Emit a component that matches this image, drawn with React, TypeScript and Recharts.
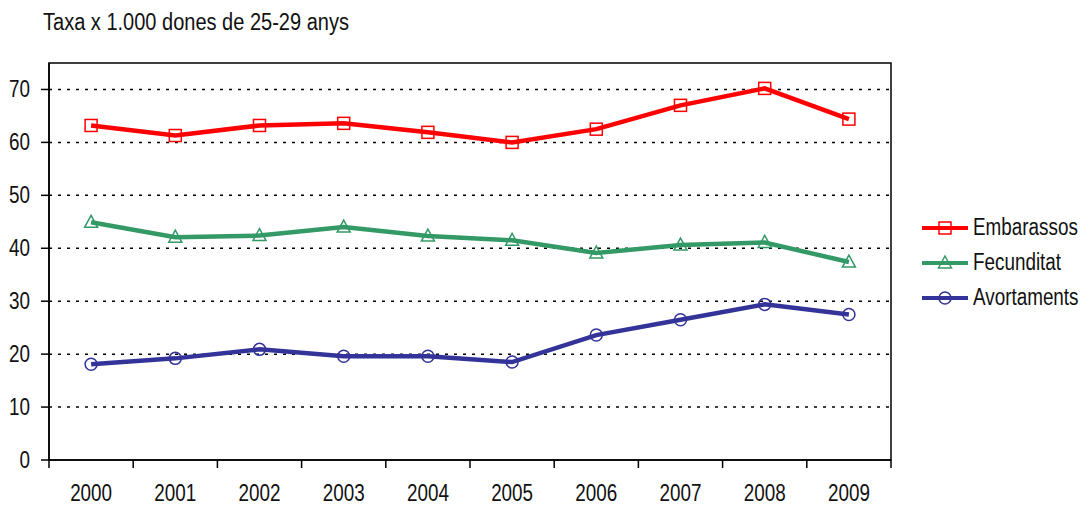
import {
  Line,
  LineChart,
  ReferenceArea,
  CartesianGrid,
  XAxis,
  YAxis,
} from 'recharts'

const FONT = '"Liberation Sans", Arial, sans-serif'
const NARROW = 0.82
const RED = '#ff0000'
const GREEN = '#339966'
const BLUE = '#333399'

const YEARS = ['2000', '2001', '2002', '2003', '2004', '2005', '2006', '2007', '2008', '2009']
const EMBARASSOS = [63.2, 61.3, 63.2, 63.6, 61.9, 60.0, 62.5, 67.0, 70.2, 64.4]
const FECUNDITAT = [44.9, 42.1, 42.4, 44.0, 42.3, 41.5, 39.1, 40.6, 41.1, 37.4]
const AVORTAMENTS = [18.1, 19.2, 20.9, 19.6, 19.6, 18.5, 23.6, 26.5, 29.4, 27.5]
const Y_TICKS = [0, 10, 20, 30, 40, 50, 60, 70]

const SERIES = [
  { key: 'embarassos', label: 'Embarassos', color: RED, marker: 'square' },
  { key: 'fecunditat', label: 'Fecunditat', color: GREEN, marker: 'triangle' },
  { key: 'avortaments', label: 'Avortaments', color: BLUE, marker: 'circle' },
] as const

const data = YEARS.map((year, i) => ({
  i,
  year,
  embarassos: EMBARASSOS[i],
  fecunditat: FECUNDITAT[i],
  avortaments: AVORTAMENTS[i],
}))

// marques a les fronteres entre anys, etiquetes al centre
const X_TICKS: number[] = []
for (let i = 0; i <= YEARS.length; i++) {
  X_TICKS.push(i - 0.5)
  if (i < YEARS.length) X_TICKS.push(i)
}

function Marker({ kind, cx, cy, color }: { kind: string; cx: number; cy: number; color: string }) {
  if (kind === 'square') {
    return <rect x={cx - 6} y={cy - 6} width={12} height={12} fill="none" stroke={color} strokeWidth={1.5} />
  }
  if (kind === 'triangle') {
    return (
      <polygon
        points={`${cx},${cy - 7} ${cx + 6.5},${cy + 5} ${cx - 6.5},${cy + 5}`}
        fill="none"
        stroke={color}
        strokeWidth={1.5}
      />
    )
  }
  return <circle cx={cx} cy={cy} r={6} fill="none" stroke={color} strokeWidth={1.5} />
}

function makeDot(kind: string, color: string) {
  return (props: { cx?: number; cy?: number; index?: number }) => {
    if (props.cx == null || props.cy == null) return <g key={props.index} />
    return <Marker key={props.index} kind={kind} cx={props.cx} cy={props.cy} color={color} />
  }
}

function NarrowText({ x, y, anchor, children }: { x: number; y: number; anchor: 'start' | 'middle' | 'end'; children: string }) {
  return (
    <text
      transform={`translate(${x},${y}) scale(${NARROW},1)`}
      textAnchor={anchor}
      fontSize={23}
      fontFamily={FONT}
      fill="#111"
    >
      {children}
    </text>
  )
}

function YearTick({ x, y, payload }: { x?: number; y?: number; payload?: { value: number } }) {
  if (x == null || y == null || !payload) return null
  const v = payload.value
  if (!Number.isInteger(v)) {
    return <line x1={x} x2={x} y1={y} y2={y + 8} stroke="#000" strokeWidth={1.5} />
  }
  return <NarrowText x={x} y={y + 41} anchor="middle">{YEARS[v]}</NarrowText>
}

function ValueTick({ x, y, payload }: { x?: number; y?: number; payload?: { value: number } }) {
  if (x == null || y == null || !payload) return null
  return <NarrowText x={x} y={y + 8} anchor="end">{String(payload.value)}</NarrowText>
}

const narrowHtml = {
  fontFamily: FONT,
  fontSize: 23,
  color: '#111',
  whiteSpace: 'nowrap' as const,
  transform: `scaleX(${NARROW})`,
  transformOrigin: 'left center',
}

function ChartLegend() {
  return (
    <div style={{ position: 'absolute', left: 920, top: 210 }}>
      {SERIES.map((s) => (
        <div key={s.key} style={{ display: 'flex', alignItems: 'center', height: 35 }}>
          <svg width={50} height={20}>
            <line x1={2} x2={48} y1={10} y2={10} stroke={s.color} strokeWidth={4} />
            <Marker kind={s.marker} cx={25} cy={10} color={s.color} />
          </svg>
          <span style={{ ...narrowHtml, marginLeft: 3, display: 'inline-block' }}>{s.label}</span>
        </div>
      ))}
    </div>
  )
}

export default function App() {
  return (
    <div style={{ position: 'relative', width: 1087, height: 506, background: '#fff' }}>
      <style>{'body{margin:0}'}</style>
      <div style={{ ...narrowHtml, transform: 'scaleX(0.87)', position: 'absolute', left: 43, top: 9 }}>
        Taxa x 1.000 dones de 25-29 anys
      </div>
      <LineChart width={1087} height={506} data={data} margin={{ top: 63, right: 196, bottom: 0, left: 0 }}>
        <CartesianGrid
          horizontal
          vertical={false}
          stroke="#000"
          strokeWidth={1.5}
          strokeDasharray="3 6"
          horizontalValues={[10, 20, 30, 40, 50, 60, 70]}
        />
        <ReferenceArea x1={-0.5} x2={9.5} y1={0} y2={75} fill="none" stroke="#000" strokeWidth={1.5} />
        <XAxis
          type="number"
          dataKey="i"
          domain={[-0.5, 9.5]}
          ticks={X_TICKS}
          interval={0}
          height={46}
          tickSize={0}
          tickMargin={0}
          tickLine={false}
          axisLine={{ stroke: '#000', strokeWidth: 1.5 }}
          tick={<YearTick />}
        />
        <YAxis
          type="number"
          domain={[0, 75]}
          ticks={Y_TICKS}
          interval={0}
          width={49}
          tickSize={8}
          tickMargin={11}
          axisLine={{ stroke: '#000', strokeWidth: 1.5 }}
          tickLine={{ stroke: '#000', strokeWidth: 1.5 }}
          tick={<ValueTick />}
        />
        {SERIES.map((s) => (
          <Line
            key={s.key}
            type="linear"
            dataKey={s.key}
            name={s.label}
            stroke={s.color}
            strokeWidth={4.5}
            dot={makeDot(s.marker, s.color)}
            activeDot={false}
            isAnimationActive={false}
          />
        ))}
      </LineChart>
      <ChartLegend />
    </div>
  )
}
